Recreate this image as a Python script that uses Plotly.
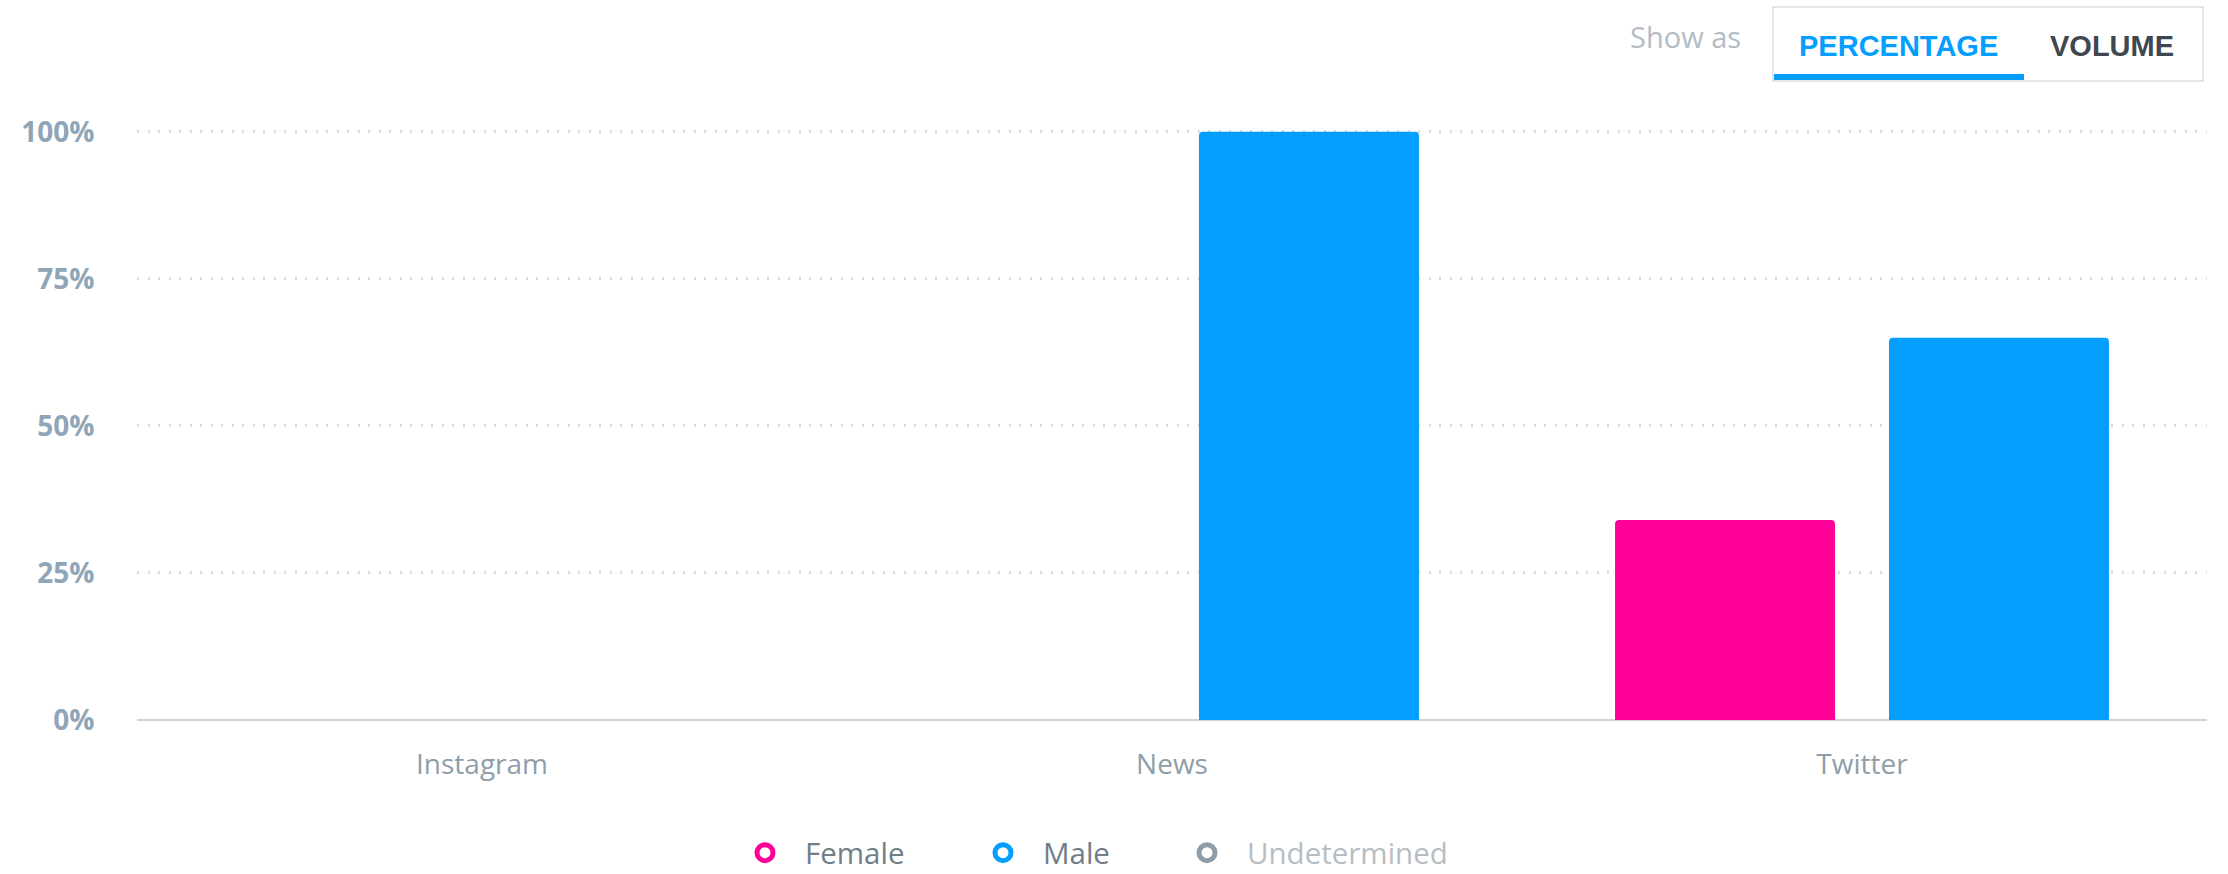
import plotly.graph_objects as go

categories = ["Instagram", "News", "Twitter"]
female = [0, 0, 34]
male = [0, 100, 65]
undetermined = [0, 0, 0]
y_ticks = [0, 25, 50, 75, 100]
y_tick_labels = ["0%", "25%", "50%", "75%", "100%"]

FEMALE_C = "#ff0099"
MALE_C = "#049eff"
UNDET_C = "#8f9ea8"
UNDET_LEGEND_C = "#1f3d51"  # appears as #8f9ea8 once plotly dims the hidden series

W, H = 2228, 874
L, R, T, B = 137, 21, 120, 154
pw, ph = W - L - R, H - T - B


def px(x):
    return (x - L) / pw


def py(y):
    return (H - B - y) / ph


fig = go.Figure()
fig.add_trace(go.Bar(x=categories, y=female, marker=dict(color=FEMALE_C, cornerradius=4, line=dict(width=0)),
                     showlegend=False, legendgroup="Female", name="Female"))
fig.add_trace(go.Bar(x=categories, y=male, marker=dict(color=MALE_C, cornerradius=4, line=dict(width=0)),
                     showlegend=False, legendgroup="Male", name="Male"))
fig.add_trace(go.Bar(x=categories, y=undetermined, marker=dict(color=UNDET_C, cornerradius=4, line=dict(width=0)),
                     showlegend=False, legendgroup="Undetermined", name="Undetermined", visible="legendonly"))

legend_items = [("Female", FEMALE_C, True, "legend", 765),
                ("Male", MALE_C, True, "legend2", 1003),
                ("Undetermined", UNDET_LEGEND_C, "legendonly", "legend3", 1207)]
ITEMW = 70
legend_layout = {}
for name, col, vis, lg, cx in legend_items:
    fig.add_trace(go.Scatter(x=[None], y=[None], mode="markers", name=name, legendgroup=name, visible=vis,
                             legend=lg,
                             marker=dict(symbol="circle-open", size=18, color=col, line=dict(width=5, color=col))))
    legend_layout[lg] = dict(
        orientation="h", xref="container", yref="container",
        x=(cx - 5 - ITEMW / 2) / W, xanchor="left",
        y=(H - 853) / H, yanchor="middle",
        itemwidth=ITEMW, bgcolor="rgba(0,0,0,0)", borderwidth=0,
        font=dict(family="Open Sans", size=29.5, color="#6f7e89"),
        itemclick=False, itemdoubleclick=False,
    )

fig.update_layout(
    width=W, height=H,
    margin=dict(l=L, r=R, t=T, b=B, pad=0, autoexpand=False),
    paper_bgcolor="white", plot_bgcolor="white",
    barmode="group", bargap=0.206, bargroupgap=0.197,
    font=dict(family="Open Sans", size=26, color="#8a9aa6"),
    xaxis=dict(type="category", showgrid=False, showline=False, zeroline=False,
               ticks="outside", ticklen=19, tickcolor="rgba(0,0,0,0)",
               tickfont=dict(family="Open Sans", size=28, color="#8e9eaa")),
    yaxis=dict(range=[0, 102], tickvals=y_ticks, ticktext=y_tick_labels,
               showgrid=True, gridcolor="#d9dcdf", griddash="2px,8.5px", gridwidth=2.5,
               zeroline=True, zerolinecolor="#d0d4d8", zerolinewidth=2,
               ticks="outside", ticklen=36, tickcolor="rgba(0,0,0,0)",
               tickfont=dict(family="Open Sans", size=28, color="#8fa6b8", weight="bold")),
    shapes=[
        dict(type="rect", xref="paper", yref="paper", x0=px(1773), x1=px(2203), y0=py(81), y1=py(7),
             line=dict(color="#e3e6e9", width=2), fillcolor="white", layer="above"),
        dict(type="rect", xref="paper", yref="paper", x0=px(1774), x1=px(2024), y0=py(80), y1=py(74),
             line=dict(width=0), fillcolor=MALE_C, layer="above"),
    ],
    annotations=[
        dict(text="Show as", xref="paper", yref="paper", x=px(1685), y=py(36), showarrow=False,
             xanchor="center", yanchor="middle", font=dict(family="Open Sans", size=29, color="#b3bcc4")),
        dict(text="<b>PERCENTAGE</b>", xref="paper", yref="paper", x=px(1898), y=py(46), showarrow=False,
             xanchor="center", yanchor="middle", font=dict(family="Liberation Sans", size=29, color=MALE_C)),
        dict(text="<b>VOLUME</b>", xref="paper", yref="paper", x=px(2112), y=py(46), showarrow=False,
             xanchor="center", yanchor="middle", font=dict(family="Liberation Sans", size=29, color="#3f4750")),
    ],
    **legend_layout,
)

fig.write_html("out.html")
